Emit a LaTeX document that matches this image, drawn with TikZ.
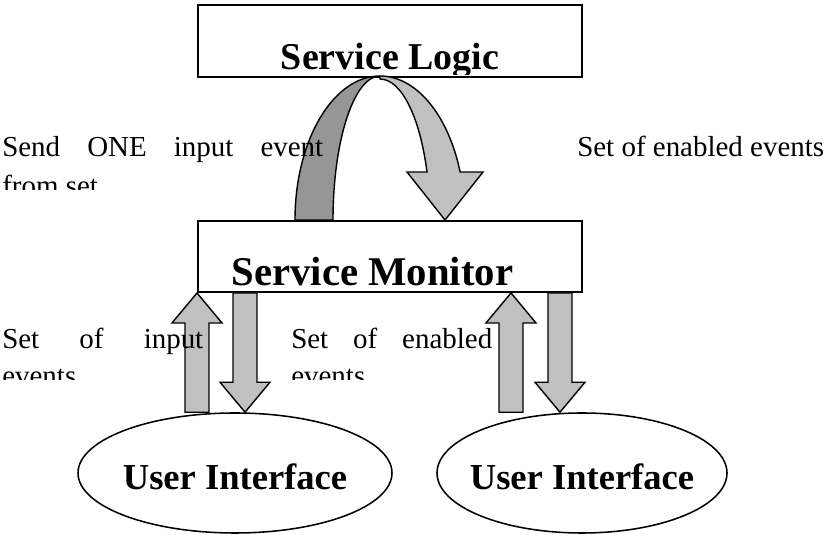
\documentclass[tikz,border=0pt]{standalone}
\usepackage{fontspec}
\setmainfont{Liberation Serif}
\usetikzlibrary{calc,shapes.geometric}
\definecolor{bandlight}{RGB}{192,192,192}
\definecolor{banddark}{RGB}{150,150,150}

% block arrow with a flat tail in #1 and the tip in #2
\newcommand{\fatarrow}[2]{%
  \coordinate (hb) at ($(#2)!0.75cm!(#1)$);
  \draw[fatband] ($(#1)!0.3cm!90:(#2)$) -- ($(hb)!0.3cm!90:(#2)$)
    -- ($(hb)!0.625cm!90:(#2)$) -- (#2) -- ($(hb)!0.625cm!-90:(#2)$)
    -- ($(hb)!0.3cm!-90:(#2)$) -- ($(#1)!0.3cm!-90:(#2)$) -- cycle;
}

\begin{document}
\begin{tikzpicture}[
    box/.style={draw, line width=1.4pt, minimum width=9.6cm, inner sep=0pt},
    uibox/.style={draw, ellipse, line width=1.1pt, minimum height=3cm, inner sep=0pt},
    title/.style={font=\fontsize{27}{32}\selectfont\bfseries, inner sep=0pt, anchor=base},
    uititle/.style={font=\fontsize{26}{31}\selectfont\bfseries, inner sep=0pt, anchor=base},
    lbl/.style={font=\fontsize{20.6}{24}\selectfont, inner sep=0pt, anchor=base west},
    fatband/.style={draw, fill=bandlight, line width=1pt, line join=miter},
  ]
  \useasboundingbox (0,0) rectangle (20.725,13.375);

  % the two boxes and the two user interfaces
  \node[box, minimum height=1.8cm] (logic) at (9.75,12.35) {};
  \node[box, minimum height=1.775cm] (monitor) at (9.75,6.9625) {};
  \node[uibox, minimum width=7.85cm] (ui1) at (5.875,1.55) {};
  \node[uibox, minimum width=7.25cm] (ui2) at (14.55,1.55) {};

  % box titles sit on the bottom edge
  \begin{scope}
    \clip ($(logic.south west)+(0,0.075)$) rectangle (logic.north east);
    \node[title] (logictxt) at ($(logic.south)+(0,0.2)$) {Service Logic};
  \end{scope}
  \node[title, font=\fontsize{29}{34}\selectfont\bfseries] (montxt)
    at ($(monitor.south)+(-0.44,0.175)$) {Service Monitor};
  \node[uititle] (ui1txt) at ($(ui1.center)+(0,-0.425)$) {User Interface};
  \node[uititle] (ui2txt) at ($(ui2.center)+(0,-0.425)$) {User Interface};

  % loop between monitor and logic
  \coordinate (loop) at ($(monitor.north)+(-0.25,0)$);
  \draw[fatband, fill=banddark] ($(loop)+(-2.125,0)$)
    arc[start angle=180, end angle=90, x radius=2.125cm, y radius=3.6cm]
    arc[start angle=90, end angle=180, x radius=1.175cm, y radius=3.6cm] -- cycle;
  \draw[fatband] ($(loop)+(0,3.6)$)
    arc[start angle=90, end angle=19.47, x radius=2.125cm, y radius=3.6cm]
    -- ($(loop)+(2.575,1.2)$) -- ($(loop)+(1.625,0)$) -- ($(loop)+(0.675,1.2)$)
    -- ($(loop)+(1.175,1.2)$)
    arc[start angle=19.9, end angle=90, x radius=1.25cm, y radius=3.525cm] -- cycle;

  % arrows between monitor and user interfaces
  \coordinate (upAtail) at (monitor.south west |- ui1.north);
  \coordinate (downAtail) at ($(monitor.south west)+(1.2,0)$);
  \coordinate (downAtip) at (downAtail |- ui1.north);
  \coordinate (upBtip) at ($(monitor.south east)+(-1.8,0)$);
  \coordinate (upBtail) at (upBtip |- ui2.north);
  \coordinate (downBtail) at ($(monitor.south east)+(-0.575,0)$);
  \coordinate (downBtip) at (downBtail |- ui2.north);
  \fatarrow{upAtail}{monitor.south west}
  \fatarrow{downAtail}{downAtip}
  \fatarrow{upBtail}{upBtip}
  \fatarrow{downBtail}{downBtip}

  % labels (second lines are cut off)
  \begin{scope}
    \clip (0,8.625) rectangle (20.725,10.5);
    \node[lbl] (send) at (0.05,9.45) {\makebox[8.025cm][s]{Send ONE input event}};
    \node[lbl] (send2) at ($(send.base west)+(0,-0.975)$) {from set};
    \node[lbl] (enabled) at (14.425,9.45) {Set of enabled events};
  \end{scope}
  \begin{scope}
    \clip (0,3.875) rectangle (14,5.6);
    \node[lbl] (inputs) at (0.05,4.65) {\makebox[5.025cm][s]{Set of input}};
    \node[lbl] (inputs2) at ($(inputs.base west)+(0,-0.925)$) {events};
    \node[lbl] (enab) at (7.275,4.65) {\makebox[5.025cm][s]{Set of enabled}};
    \node[lbl] (enab2) at ($(enab.base west)+(0,-0.925)$) {events};
  \end{scope}
\end{tikzpicture}
\end{document}
